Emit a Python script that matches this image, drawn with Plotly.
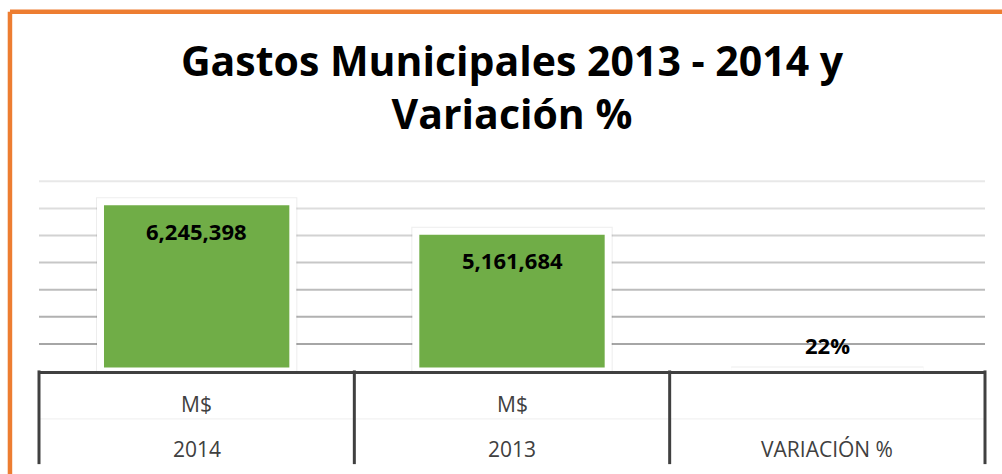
import plotly.graph_objects as go

# ---- data ----
categories = ["2014", "2013", "VARIACIÓN %"]
units = ["M$", "M$", ""]
values = [6245398, 5161684, 0.22]
value_labels = ["6,245,398", "5,161,684", "22%"]
grid_ticks = [1e6, 2e6, 3e6, 4e6, 5e6, 6e6, 7e6]
title_text = "Gastos Municipales 2013 - 2014 y<br>Variación %"

GREEN = "#70AD47"
ORANGE = "#ED7D31"
DARK = "#404040"
FONT = "Open Sans"

positions = list(range(len(categories)))
ncat = len(categories)

fig = go.Figure()

# soft shadow around the bars
fig.add_trace(go.Bar(
    x=categories, y=values, width=0.61,
    marker=dict(color="rgba(0,0,0,0)", line=dict(color="rgba(0,0,0,0.07)", width=9)),
    hoverinfo="skip", showlegend=False,
))
fig.add_trace(go.Bar(
    x=categories, y=values, width=0.61,
    marker=dict(color=GREEN, line=dict(color="white", width=7)),
    showlegend=False,
))

shapes = []
# gradient gridlines
n = len(grid_ticks)
for i, t in enumerate(grid_ticks):
    f = i / (n - 1)
    g = int(0xA6 + (0xE8 - 0xA6) * f)
    col = f"rgb({g},{g},{g})"
    shapes.append(dict(type="line", xref="paper", yref="y", x0=0, x1=1, y0=t, y1=t,
                       line=dict(color=col, width=2), layer="below"))

# table dividers under the axis (category boundaries)
for k in range(ncat + 1):
    xv = k / ncat
    shapes.append(dict(type="line", xref="paper", yref="paper", x0=xv, x1=xv, y0=0.003, y1=-0.48,
                       line=dict(color=DARK, width=3), layer="above"))
# faint middle line in the table
shapes.append(dict(type="line", xref="paper", yref="paper", x0=0, x1=1, y0=-0.247, y1=-0.247,
                   line=dict(color="#eeeeee", width=1), layer="below"))

# orange frame (top and left edges)
shapes.append(dict(type="line", xref="paper", yref="paper", x0=-0.0307, x1=1.1, y0=1.852, y1=1.852,
                   line=dict(color=ORANGE, width=4.5)))
shapes.append(dict(type="line", xref="paper", yref="paper", x0=-0.0307, x1=-0.0307, y0=1.852, y1=-0.7,
                   line=dict(color=ORANGE, width=4.5)))

annotations = []
shifts = [-29, -29, 26]
for p, v, lab, s in zip(positions, values, value_labels, shifts):
    annotations.append(dict(x=p, y=v, xref="x", yref="y", text=lab, showarrow=False,
                            yanchor="middle", yshift=s,
                            font=dict(family=FONT, size=22, color="black", weight=700)))
for p, u in zip(positions, units):
    if u:
        annotations.append(dict(x=p, y=-0.170, xref="x", yref="paper", text=u, showarrow=False,
                                yanchor="middle", font=dict(family=FONT, size=21, color=DARK)))
for p, c in zip(positions, categories):
    annotations.append(dict(x=p, y=-0.402, xref="x", yref="paper", text=c, showarrow=False,
                            yanchor="middle", font=dict(family=FONT, size=21, color=DARK)))

fig.update_layout(
    width=1002, height=474,
    margin=dict(l=39, r=17, t=177, b=103, pad=0),
    paper_bgcolor="white", plot_bgcolor="white",
    barmode="overlay",
    title=dict(text=title_text, x=0.5, xref="paper", y=1 - 76 / 474, yref="container",
               yanchor="top", xanchor="center",
               font=dict(family=FONT, size=41, color="black", weight=700)),
    xaxis=dict(type="category", range=[-0.5, ncat - 0.5], autorange=False,
               showticklabels=False, showgrid=False, zeroline=False, ticks="",
               showline=True, linecolor=DARK, linewidth=3, fixedrange=True),
    yaxis=dict(range=[0, 7.16e6], autorange=False, showgrid=False, zeroline=False,
               showticklabels=False, ticks="", showline=False, fixedrange=True),
    shapes=shapes,
    annotations=annotations,
    showlegend=False,
)

fig.write_html("out.html", config={"displayModeBar": False},
               post_script="document.body.style.margin='0';document.body.style.overflow='hidden';")
